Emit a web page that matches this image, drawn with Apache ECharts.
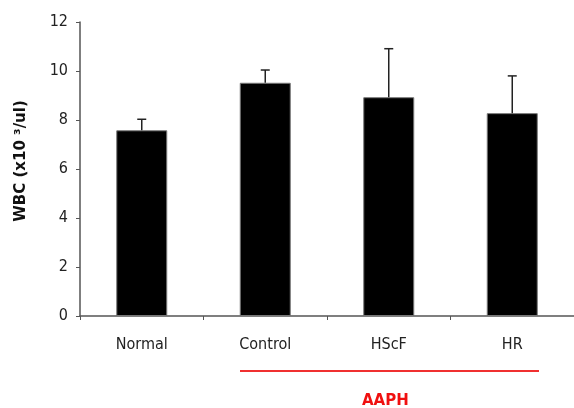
<!DOCTYPE html>
<html><head><meta charset="utf-8">
<script src="https://cdn.jsdelivr.net/npm/echarts@6/dist/echarts.min.js"></script>
<style>html,body{margin:0;padding:0;background:#fff}#c{width:574px;height:408px}</style>
</head><body><div id="c"></div>
<script>
const categories = ['Normal', 'Control', 'HScF', 'HR'];
const means = [7.58, 9.52, 8.93, 8.28];
const errors = [0.45, 0.52, 1.98, 1.52];
const yTicks = [0, 2, 4, 6, 8, 10, 12];
const groupLabel = 'AAPH';
const yName = 'WBC (x10 \u00b3/ul)';

const FONT = "'Liberation Sans Narrow','DejaVu Sans Condensed',sans-serif";
const chart = echarts.init(document.getElementById('c'), null, {renderer: 'canvas'});
chart.setOption({
  animation: false,
  grid: {left: 80, top: 22, right: 0, bottom: 92},
  xAxis: {
    type: 'category', data: categories,
    axisLine: {lineStyle: {color: '#555', width: 1.5}},
    axisTick: {show: true, length: 4, lineStyle: {color: '#555'}},
    axisLabel: {color: '#222', fontFamily: FONT, fontSize: 16, margin: 21}
  },
  yAxis: {
    type: 'value', min: 0, max: 12, interval: 2,
    name: yName, nameLocation: 'middle', nameGap: 51, nameRotate: 90,
    nameTextStyle: {fontFamily: 'DejaVu Sans', fontWeight: 'bold', fontSize: 15, color: '#111', padding: [0, 0, 0, 16]},
    axisLine: {show: true, lineStyle: {color: '#555', width: 1.5}},
    axisTick: {show: true, length: 4, inside: false, lineStyle: {color: '#555'}},
    axisLabel: {color: '#222', fontFamily: FONT, fontSize: 16, margin: 12,
      formatter: v => yTicks.includes(v) ? String(v) : ''},
    splitLine: {show: false}
  },
  series: [
    {
      type: 'bar', data: means, barWidth: 51,
      itemStyle: {color: '#000', borderColor: '#777', borderWidth: 1}
    },
    {
      type: 'custom',
      data: means.map((m, i) => [i, m, m + errors[i]]),
      renderItem: (params, api) => {
        const p0 = api.coord([api.value(0), api.value(1)]);
        const p1 = api.coord([api.value(0), api.value(2)]);
        const hw = 4.5;
        return {type: 'group', children: [
          {type: 'line', shape: {x1: p0[0], y1: p0[1], x2: p1[0], y2: p1[1]}, style: {stroke: '#222', lineWidth: 1.5}},
          {type: 'line', shape: {x1: p1[0] - hw, y1: p1[1], x2: p1[0] + hw, y2: p1[1]}, style: {stroke: '#222', lineWidth: 1.5}}
        ]};
      },
      z: 3
    }
  ],
  graphic: [
    {type: 'line', shape: {x1: 240, y1: 371, x2: 539, y2: 371}, style: {stroke: '#f03030', lineWidth: 2}},
    {type: 'text', left: 362, top: 394, style: {text: groupLabel, fill: '#f01010', font: "bold 15px 'DejaVu Sans'"}}
  ]
});
</script></body></html>
